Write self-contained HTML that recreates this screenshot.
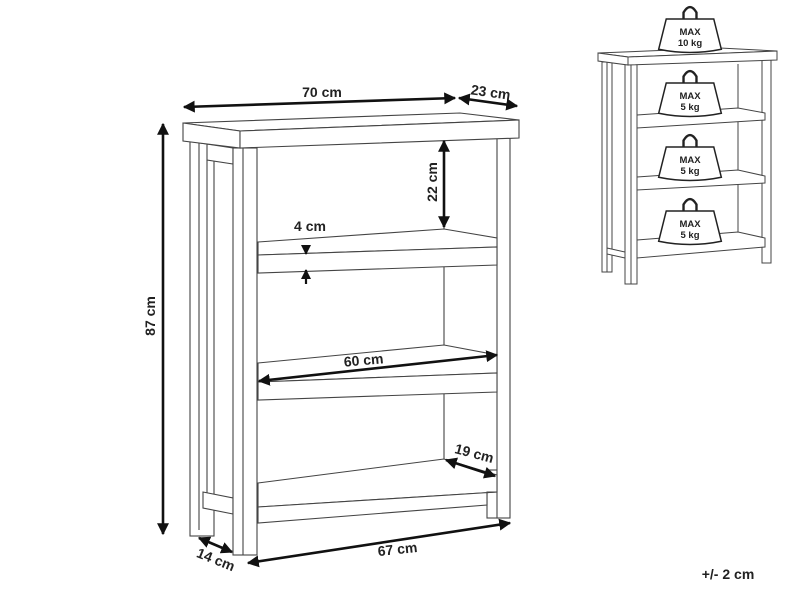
<!DOCTYPE html>
<html><head><style>
html,body{margin:0;padding:0;background:#fff;}
svg{display:block;}
text{font-family:"Liberation Sans",sans-serif;font-weight:bold;fill:#222;}
</style></head><body>
<svg width="800" height="600" viewBox="0 0 800 600" xmlns="http://www.w3.org/2000/svg">
<defs>
<marker id="ah" viewBox="0 0 10 10" refX="9" refY="5" markerWidth="4.6" markerHeight="4.6" orient="auto-start-reverse">
<path d="M0,0 L10,5 L0,10 Z" fill="#111"/></marker>
<g id="wt">
<path d="M-6,0 L-6,-6 Q0,-16 6,-6 L6,0" fill="none" stroke="#222" stroke-width="2.2"/>
<path d="M-22,0 L22,0 L29,28 Q0,34 -29,28 Z" fill="#fff" stroke="#222" stroke-width="1.4"/>
</g>
</defs>

<!-- MAIN SHELF -->
<g fill="#fff" stroke="#444" stroke-width="1.1">
<rect x="190" y="141" width="24" height="395"/>
<line x1="199" y1="141" x2="199" y2="530"/>
<line x1="207" y1="160" x2="207" y2="493"/>
<polygon points="200,143 233,148 233,164 207,160 207,143"/>
<polygon points="203,492 233,498 233,514 203,508"/>
<rect x="487" y="470" width="12" height="48"/>
<rect x="497" y="138" width="13" height="380"/>
<line x1="444" y1="148" x2="444" y2="460"/>
<polygon points="258,242 444,229 497,238 497,247 258,255"/>
<polygon points="258,255 497,247 497,265 258,273"/>
<polygon points="258,363 444,345 497,355 497,373 258,382"/>
<polygon points="258,382 497,373 497,392 258,400"/>
<polygon points="258,483 444,459 497,475 497,492 258,507"/>
<polygon points="258,507 497,492 487,492 487,505 258,523"/>
<rect x="233" y="148" width="24" height="407"/>
<line x1="243" y1="148" x2="243" y2="555"/>
<polygon points="183,123 460,113 519,120 240,131"/>
<polygon points="183,123 240,131 240,148 183,141"/>
<polygon points="240,131 519,120 519,138 240,148"/>
</g>

<g stroke="#111" stroke-width="2.6" fill="none" marker-start="url(#ah)" marker-end="url(#ah)">
<line x1="184" y1="107" x2="455" y2="98"/>
<line x1="459" y1="98" x2="517" y2="106"/>
<line x1="163" y1="124" x2="163" y2="534"/>
<line x1="444" y1="141" x2="444" y2="227"/>
<line x1="259" y1="381" x2="497" y2="355"/>
<line x1="446" y1="460" x2="495" y2="476"/>
<line x1="199" y1="538" x2="232" y2="552"/>
<line x1="248" y1="563" x2="510" y2="523"/>
</g>
<g stroke="#111" stroke-width="2.2" fill="none" marker-end="url(#ah)">
<line x1="306" y1="245" x2="306" y2="254"/>
<line x1="306" y1="284" x2="306" y2="270"/>
</g>

<g font-size="14">
<text x="322" y="97" text-anchor="middle">70 cm</text>
<text x="0" y="0" text-anchor="middle" transform="translate(490,97) rotate(8)">23 cm</text>
<text x="0" y="0" text-anchor="middle" transform="translate(155,316) rotate(-90)">87 cm</text>
<text x="0" y="0" text-anchor="middle" transform="translate(437,182) rotate(-90)">22 cm</text>
<text x="310" y="231" text-anchor="middle">4 cm</text>
<text x="0" y="0" text-anchor="middle" transform="translate(364,365) rotate(-5)">60 cm</text>
<text x="0" y="0" text-anchor="middle" transform="translate(473,458) rotate(15)">19 cm</text>
<text x="0" y="0" text-anchor="middle" transform="translate(214,564) rotate(22)">14 cm</text>
<text x="0" y="0" text-anchor="middle" transform="translate(398,554) rotate(-6)">67 cm</text>
<text x="728" y="579" text-anchor="middle">+/- 2 cm</text>
</g>

<!-- SMALL SHELF -->
<g fill="#fff" stroke="#444" stroke-width="1">
<rect x="602" y="62" width="10" height="210"/>
<line x1="607" y1="62" x2="607" y2="272"/>
<rect x="762" y="58" width="9" height="205"/>
<line x1="738" y1="64" x2="738" y2="240"/>
<polygon points="637,115 738,108 765,113 765,120 637,128"/>
<polygon points="637,177 738,170 765,176 765,183 637,190"/>
<polygon points="637,240 738,232 765,238 765,247 637,258"/>
<polygon points="607,248 625,252 625,258 607,254"/>
<rect x="625" y="63" width="12" height="221"/>
<line x1="631" y1="63" x2="631" y2="284"/>
<polygon points="598,53 720,48 777,51 628,57"/>
<polygon points="598,53 628,57 628,65 598,61"/>
<polygon points="628,57 777,51 777,60 628,65"/>
</g>
<use href="#wt" transform="translate(690,19) scale(1.08)"/>
<use href="#wt" transform="translate(690,83) scale(1.08)"/>
<use href="#wt" transform="translate(690,147) scale(1.08)"/>
<use href="#wt" transform="translate(690,211) scale(1.08)"/>
<g font-size="9.5" text-anchor="middle">
<text x="690" y="35">MAX</text><text x="690" y="46">10 kg</text>
<text x="690" y="99">MAX</text><text x="690" y="110">5 kg</text>
<text x="690" y="163">MAX</text><text x="690" y="174">5 kg</text>
<text x="690" y="227">MAX</text><text x="690" y="238">5 kg</text>
</g>
</svg>
</body></html>
